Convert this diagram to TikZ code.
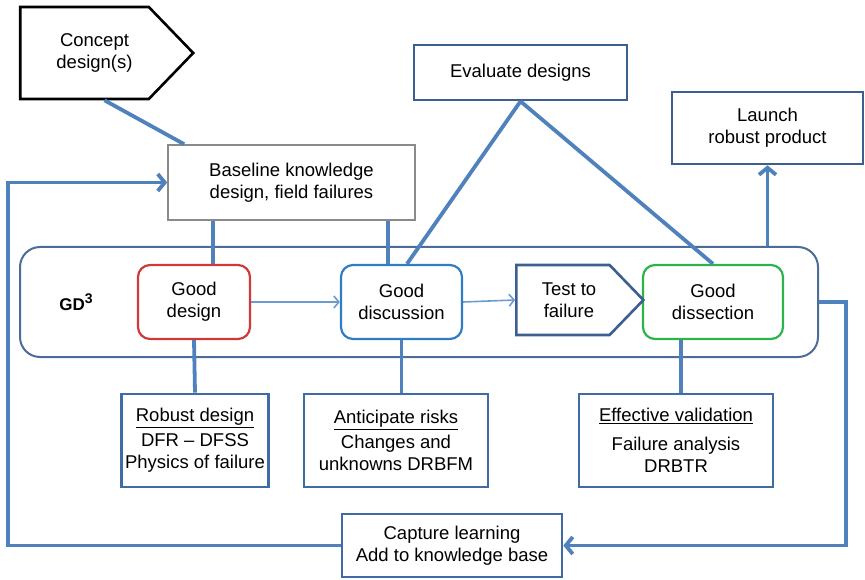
\documentclass[tikz,border=0pt]{standalone}
\usepackage{fontspec}
\setmainfont{Liberation Sans}
\usepackage{tikz}
\usetikzlibrary{arrows.meta,positioning,shapes.symbols}
\definecolor{linkblue}{HTML}{4F81BD}
\definecolor{thinblue}{HTML}{6C9BD2}
\definecolor{boxnavy}{HTML}{3C5F8E}
\definecolor{boxblue}{HTML}{3F6CA6}
\definecolor{ringblue}{HTML}{4C6D98}
\definecolor{redline}{HTML}{D0393A}
\definecolor{discblue}{HTML}{2F7DC6}
\definecolor{greenline}{HTML}{2DB34C}
\definecolor{grayline}{HTML}{8A8A8A}
\tikzset{
  every node/.style={font=\fontsize{18.5}{22}\selectfont},
  stage/.style={draw=#1,line width=2.2pt,rounded corners=12pt,align=center,
    minimum height=74pt,fill=white},
  plainbox/.style={draw=boxnavy,line width=2.6pt,align=center,fill=white},
  notebox/.style={draw=boxblue,line width=2.6pt,align=center,
    minimum height=93pt,fill=white},
  tagbox/.style={signal,signal to=east,signal pointer angle=92,
    line width=2.6pt,fill=white,inner sep=0pt},
  link/.style={draw=linkblue,line width=3.8pt},
  backlink/.style={link,-{Straight Barb[length=7pt,width=17pt]}},
  steparrow/.style={draw=thinblue,line width=1.6pt,-{Straight Barb[length=5pt,width=12pt]}}
}

\begin{document}
\begin{tikzpicture}[x=1pt,y=-1pt]
  \useasboundingbox (0,0) rectangle (865,580);
  % GD3 ring
  \node[draw=ringblue,line width=2pt,rounded corners=20pt,minimum width=798pt,
    minimum height=110pt] (ring) at (419,302) {};
  \node[font=\fontsize{17}{20}\selectfont\bfseries] (gdlabel) at (76,302)
    {GD\raisebox{7pt}{\fontsize{14}{14}\selectfont 3}};
  \node[stage=redline,minimum width=112pt] (gdes) at (194,302) {Good\\design};
  \node[stage=discblue,minimum width=121pt] (disc) at (401.5,302) {Good\\discussion};
  \node[stage=greenline,minimum width=140pt] (diss) at (713,302) {Good\\dissection};
  \node[tagbox,draw=boxnavy,minimum width=127pt,minimum height=70pt,
    label={[align=center,xshift=6pt]center:Test to\\failure}] (test) at (563,300) {};
  % top row
  \node[tagbox,draw=black,minimum width=173pt,minimum height=92pt,
    label={[align=center,xshift=10pt]center:Concept\\design(s)}] (concept) at (84.5,53) {};
  \node[draw=grayline,line width=1.6pt,align=center,minimum width=247pt,
    minimum height=75pt,fill=white] (base) at (291.5,182.5) {Baseline knowledge\\design, field failures};
  \node[plainbox,minimum width=213pt,minimum height=55pt] (eval) at (520.5,72.5) {Evaluate designs};
  \node[plainbox,minimum width=191pt,minimum height=72pt] (launch) at (767.5,128) {Launch\\robust product};
  % bottom row
  \node[notebox,minimum width=146pt] (robust) at (195,440.5) {\underline{Robust design}\\[3pt]DFR -- DFSS\\Physics of failure};
  \node[notebox,minimum width=184pt] (risk) at (396,440.5) {\underline{Anticipate risks}\\[3pt]Changes and\\unknowns DRBFM};
  \node[notebox,minimum width=194pt] (valid) at (676,440.5) {\underline{Effective validation}\\[7pt]Failure analysis\\DRBTR};
  \node[notebox,minimum width=220pt,minimum height=63pt] (capture) at (452,545.5) {Capture learning\\Add to knowledge base};
  \coordinate (lcorner) at (8,545.5);
  \coordinate (rcorner) at (846,302);

  \draw[link] ([xshift=20pt]concept.south) -- ([xshift=17pt]base.north west);
  \draw[link] ([xshift=19pt]gdes.north) -- ([xshift=19pt]gdes.north |- base.south);
  \draw[link] ([xshift=-13.5pt]disc.north) -- ([xshift=-13.5pt]disc.north |- base.south);
  \draw[link] (eval.south) -- ([xshift=5.5pt]disc.north);
  \draw[link] (eval.south) -- (diss.north);
  \draw[backlink] (launch.south |- ring.north) -- (launch.south);
  \draw[link] (gdes.south) -- (robust.north);
  \draw[link] (risk.north -| disc.south) -- (disc.south);
  \draw[link] ([xshift=5pt]valid.north) -- ([xshift=5pt]valid.north |- diss.south);
  \draw[steparrow] (gdes.east) -- (disc.west);
  \draw[steparrow] (disc.east) -- (test.west);
  \draw[backlink] (capture.west) -- (lcorner) |- (base.west);
  \draw[backlink] (ring.east) -- (rcorner) |- (capture.east);
\end{tikzpicture}
\end{document}
